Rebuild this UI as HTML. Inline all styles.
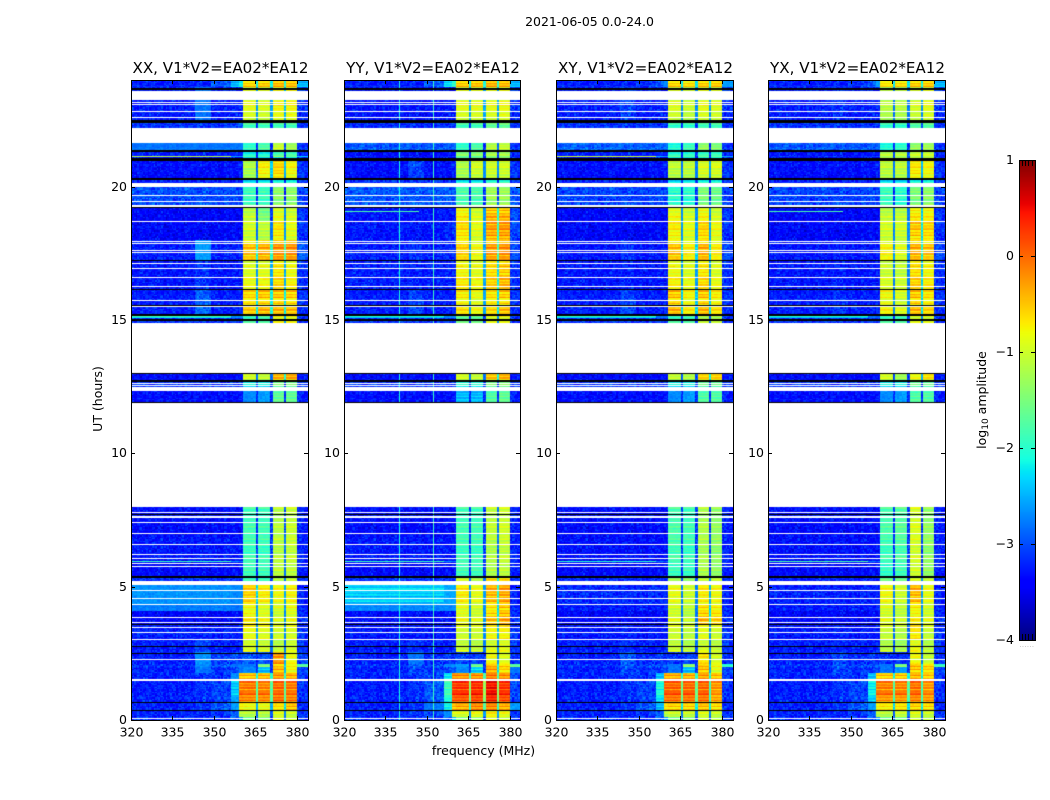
<!DOCTYPE html>
<html lang="en">
<head>
<meta charset="utf-8">
<title>2021-06-05 0.0-24.0</title>
<style>
html,body{margin:0;padding:0;background:#fff;}
#chart{position:relative;width:1050px;height:800px;overflow:hidden;background:#fff;font-family:"DejaVu Sans","Liberation Sans",sans-serif;}
#chart canvas{position:absolute;display:block;}
#overlay{position:absolute;left:0;top:0;}
#overlay text{font-family:"DejaVu Sans","Liberation Sans",sans-serif;fill:#000;}
</style>
</head>
<body>
<div id="chart">
<svg id="overlay" width="1050" height="800" viewBox="0 0 1050 800">
<text x="589.5" y="26" text-anchor="middle" font-size="12.5">2021-06-05 0.0-24.0</text>
<text x="483.5" y="755" text-anchor="middle" font-size="12.5">frequency (MHz)</text>
<text transform="translate(102,399) rotate(-90)" text-anchor="middle" font-size="12.5">UT (hours)</text>
<text transform="translate(986,400) rotate(-90)" text-anchor="middle" font-size="12.5">log<tspan font-size="9" dy="2">10</tspan><tspan dy="-2"> amplitude</tspan></text>
<text x="1027" y="647" text-anchor="middle" font-size="6" style="fill:#999" letter-spacing="0.6">......</text>
</svg>
</div>
<script>
// Axis data
const xTickLabels = [320, 335, 350, 365, 380];
const yTickLabels = [0, 5, 10, 15, 20];
const colorbarTickLabels = [1, 0, -1, -2, -3, -4];
const panelTitles = ["XX, V1*V2=EA02*EA12", "YY, V1*V2=EA02*EA12", "XY, V1*V2=EA02*EA12", "YX, V1*V2=EA02*EA12"];

// Frequency band edges (MHz)
const freqEdges = [320, 343, 349, 356, 359, 360.6, 365.3, 365.9, 370.4, 371.3, 375.4, 376, 380, 384];

// UT row edges (hours), top to bottom
const rowEdges = [24, 23.72, 22.5, 22.2, 21.39, 21.16, 21.12, 20.96, 20.33, 20, 19.25, 18.7, 18, 17.25, 16.18, 15.14, 15.07, 13, 12.72, 12.45, 11.9, 6.85, 5.98, 5.92, 5.39, 5.05, 4.36, 4.1, 3.6, 3, 2.55, 2.1, 2, 1.78, 1.45, 1.1, 0.85, 0.62, 0.36, 0.12, 0];

// Flagged (white) UT spans in hours
const flaggedSpans = [[23.6,23.26],[23.17,23.13],[23.09,23.06],[22.85,22.81],[22.62,22.57],[22.21,21.65],[20.15,20],[19.7,19.66],[19.45,19.41],[19.3,19.25],[18.72,18.68],[17.97,17.93],[17.87,17.84],[17.63,17.59],[17.56,17.52],[17.14,17.1],[16.95,16.92],[16.62,16.58],[16.28,16.24],[15.75,15.71],[15.53,15.49],[14.88,13.01],[12.64,12.6],[12.56,12.53],[12.5,12.47],[12.45,12.32],[11.88,7.97],[7.81,7.77],[7.65,7.57],[7.43,7.39],[7,6.97],[6.59,6.55],[6.21,6.18],[6.08,6.05],[5.89,5.85],[5.78,5.75],[5.21,5.05],[4.86,4.83],[4.56,4.53],[4.36,4.32],[3.87,3.83],[3.66,3.62],[3.47,3.44],[3.3,3.27],[3.03,2.99],[2.29,2.25],[1.52,1.45],[0.08,0.04]];

// Dead (black) UT spans in hours
const darkSpans = [[23.71,23.64],[22.49,22.4],[21.39,21.29],[21.07,20.97],[20.33,20.26],[19.25,19.19],[17.25,17.2],[16.18,16.13],[15.57,15.54],[15.23,15.15],[15.02,14.98],[13.01,12.97],[12.75,12.69],[11.92,11.88],[7.73,7.69],[5.39,5.33],[3.59,3.55],[2.76,2.72],[2.53,2.5],[0.66,0.62],[0.36,0.32]];

// Log10 amplitude per row: low, bump, mid, shoulder, b0, b1, b2, b3, b4, edge
const seriesXX = [
[-3.1,-3.1,-2.8,-2.4,-2.1,-.5,-.45,-.35,-.4,-2.4],
[-3.1,-2.7,-3.1,-3.1,-3.1,-.85,-.9,-.75,-.75,-3],
[-3,-3,-3,-2.9,-2.8,-1.9,-1.9,-1.9,-1.9,-3],
[-2.7,-2.7,-2.7,-2.7,-2.7,-1.9,-1.7,-1,-1.2,-3],
[-3.1,-3.1,-3.1,-3.1,-3.1,-2.2,-2.2,-1.9,-1.9,-3],
[-1,-1,-1,-2.5,-2.5,-1.6,-1.6,-1.2,-1.5,-2.2],
[-3.2,-3.2,-3.2,-3.2,-3.2,-2.3,-2.3,-2.2,-2.2,-3],
[-3.2,-3.2,-3.2,-3.2,-3.1,-1.2,-.75,-.6,-.8,-3],
[-3.1,-3.1,-3.1,-3.1,-3.1,-2.2,-2.1,-2,-2,-3],
[-2.85,-2.85,-2.85,-2.9,-2.9,-1.9,-1.9,-1.4,-1.4,-2.9],
[-3.25,-3.25,-3.25,-3.25,-3.25,-1.1,-1.5,-.9,-1,-3],
[-3.25,-3.25,-3.25,-3.25,-3.25,-1,-1.1,-.7,-.9,-3],
[-3.1,-2.5,-3.1,-3.1,-3,-.55,-.45,-.3,-.3,-2.8],
[-3.15,-3,-3.15,-3.15,-3.15,-.9,-.85,-.65,-.8,-3],
[-3.1,-2.75,-3.1,-3.1,-3.1,-.6,-.5,-.5,-.55,-3],
[-2,-2,-2,-2.6,-2.6,-1.9,-1.7,-.8,-.8,-3],
[-3,-3,-3,-3,-3,-1.9,-1.9,-.9,-.9,-3],
[-3.2,-3.2,-3.2,-3.2,-3.2,-1,-1.1,-.45,-.4,-3.1],
[-3,-3,-3,-3,-3,-2.2,-2.2,-1.6,-1.6,-3],
[-3.2,-3.2,-3.2,-3.2,-3.2,-2.6,-2.5,-1.6,-1.6,-3.1],
[-3.2,-3.2,-3.2,-3.2,-3.2,-1.85,-1.85,-1.15,-1.05,-3.1],
[-3.15,-3.15,-3.15,-3.15,-3.15,-1.85,-1.85,-1.1,-1.05,-3.1],
[-2,-2,-2,-2.6,-2.7,-1.85,-1.85,-1.1,-1.1,-3],
[-3.2,-3.2,-3.2,-3.2,-3.2,-1.85,-1.85,-1.1,-1.1,-3.1],
[-3,-3,-3,-3,-3,-1.8,-1.8,-1.1,-1,-3],
[-2.55,-2.55,-2.55,-2.6,-2.6,-.6,-.75,-.85,-.8,-3.1],
[-2.65,-2.65,-2.65,-2.7,-2.7,-.8,-.9,-.9,-.8,-3.1],
[-3.25,-3.25,-3.25,-3.25,-3.25,-.75,-.85,-1,-.9,-3],
[-3.1,-3.1,-3.1,-3.1,-3.1,-.85,-.9,-1,-.95,-3],
[-3.1,-2.9,-3.1,-3.1,-3.1,-.95,-1,-1.1,-1,-3],
[-3.1,-2.55,-2.9,-2.9,-2.9,-2.8,-2.8,-.3,-.85,-2.9],
[-3,-2.6,-2.8,-2.7,-2.7,-2.7,-1.4,-.5,-.7,-1.6],
[-3.1,-2.7,-3,-2.9,-2.7,-2.6,-2.4,-.4,-.8,-2.9],
[-3.1,-3,-3,-2.6,-.4,-.4,-.35,-.2,-.3,-3],
[-3.1,-3,-2.9,-2.4,-.2,-.15,-.2,-.05,-.15,-3],
[-3.1,-3,-2.9,-2.4,-.05,-.1,-.1,-.05,-.1,-3],
[-3.1,-3,-2.9,-2.5,-.15,-.2,-.2,-.05,-.15,-3],
[-3.1,-3,-2.8,-2.5,-.7,-.8,-.8,-.6,-.4,-3],
[-3.1,-3.1,-3,-2.8,-1.2,-1.2,-1.2,-1,-1.1,-3],
[-3,-3,-3,-2.9,-2.5,-1.6,-1.5,-1,-1.1,-3]
];
const seriesYY = [
[-3.1,-3.1,-2.8,-2.2,-1.9,-.45,-.4,-.3,-.35,-2.4],
[-3.15,-3.15,-3.15,-3.15,-3.15,-.85,-.85,-.85,-.8,-3],
[-3.05,-3.05,-3.05,-3,-3,-1.9,-1.9,-1.7,-1.7,-3],
[-2.8,-2.8,-2.8,-2.8,-2.8,-1.9,-1.7,-1.1,-1,-3],
[-3.2,-3.2,-3.2,-3.2,-3.2,-1.5,-1.5,-1.3,-1.3,-3],
[-3.1,-3.1,-3.1,-3.1,-3.1,-1.6,-1.6,-1.4,-1.4,-3],
[-3.2,-3.2,-3.2,-3.2,-3.2,-1.7,-1.6,-1.5,-1.4,-3],
[-3.2,-2.9,-3.2,-3.2,-3.1,-1.2,-1,-1,-1,-3],
[-3,-3,-3,-3,-3,-2.1,-2.1,-1.9,-1.9,-3],
[-2.8,-2.8,-2.8,-2.8,-2.8,-1.8,-1.8,-1.3,-1.3,-2.8],
[-3.15,-3.15,-3.15,-3.15,-3.1,-.75,-.95,-.45,-.45,-2.9],
[-3.15,-3.15,-3.15,-3.1,-3,-.65,-.9,-.35,-.3,-2.9],
[-3.1,-3,-3.1,-3.05,-3,-.6,-.85,-.35,-.3,-2.9],
[-3.1,-3.1,-3.1,-3.1,-3.1,-.75,-.85,-.6,-.5,-3],
[-3.1,-2.9,-3.1,-3.1,-3.1,-.7,-.85,-.65,-.55,-3],
[-2.2,-2.2,-2.2,-2.6,-2.6,-1.6,-1.6,-.9,-.8,-3],
[-3,-3,-3,-3,-3,-1.7,-1.7,-1,-.95,-3],
[-3.2,-3.2,-3.2,-3.2,-3.2,-1,-1.1,-.55,-.45,-3.1],
[-3,-3,-3,-3,-3,-2.1,-2.1,-1.6,-1.5,-3],
[-3.2,-3.2,-3.2,-3.2,-3.2,-2.4,-2.4,-1.7,-1.6,-3.1],
[-3.2,-3.2,-3.2,-3.2,-3.2,-1.85,-1.85,-1.1,-1,-3.1],
[-3.15,-3.15,-3.15,-3.15,-3.15,-1.85,-1.85,-1.15,-1.05,-3.1],
[-2,-2,-2,-2.6,-2.7,-1.85,-1.85,-1.2,-1.1,-3],
[-3.2,-3.2,-3.2,-3.2,-3.2,-1.85,-1.85,-1.2,-1.1,-3.1],
[-3,-3,-3,-3,-3,-.9,-1.1,-.5,-.5,-3],
[-2.4,-2.4,-2.4,-2.45,-2.45,-.75,-.9,-.5,-.4,-3.1],
[-2.6,-2.6,-2.6,-2.6,-2.6,-.85,-.95,-.65,-.5,-3.1],
[-3.2,-3.2,-3.2,-3.2,-3.2,-.85,-.95,-.55,-.4,-3],
[-3.15,-3.15,-3.15,-3.15,-3.15,-1,-1,-.8,-.75,-3],
[-3.1,-3,-3.1,-3.1,-3.1,-1.05,-1.1,-.95,-.9,-3],
[-3.1,-2.7,-3,-3,-3,-2.9,-2.9,-.85,-.95,-3],
[-3,-2.8,-2.9,-2.6,-2.6,-2.5,-1.5,-.35,-.5,-1.6],
[-3.1,-2.9,-3,-2.9,-2.8,-2.6,-2.3,-.3,-.6,-2.7],
[-3.1,-3,-2.9,-2.2,-.15,-.15,-.15,-.05,-.15,-2.9],
[-3.1,-3,-2.8,-1.9,.15,.2,.25,.4,.2,-2.9],
[-3.1,-3,-2.8,-1.9,.2,.25,.3,.45,.25,-2.9],
[-3.1,-3,-2.8,-2.1,.05,.05,.15,.3,.1,-2.9],
[-3.1,-3,-2.7,-2.1,-.4,-.3,-.1,-.1,-.3,-2.5],
[-3.1,-3,-2.9,-2.6,-1,-1,-.9,-.8,-.9,-3],
[-3,-3,-3,-2.9,-2.4,-1.5,-1.4,-1,-1.1,-3]
];
const seriesXY = [
[-3.1,-3.1,-3,-2.8,-2.6,-.5,-.55,-.45,-.45,-2.5],
[-3.1,-2.9,-3.1,-3.1,-3.1,-.9,-1,-.85,-.9,-3],
[-3,-3,-3,-3,-3,-2,-2,-1.9,-1.9,-3],
[-2.75,-2.75,-2.75,-2.75,-2.75,-2,-1.8,-1.3,-1.4,-3],
[-3.1,-3.1,-3.1,-3.1,-3.1,-2.1,-2.1,-2,-2,-3],
[-.9,-.9,-.9,-2.4,-2.6,-1.5,-1.6,-1.5,-1.6,-2.4],
[-3.2,-3.2,-3.2,-3.2,-3.2,-2.2,-2.2,-2.1,-2.1,-3],
[-3.2,-3.2,-3.2,-3.2,-3.1,-1.1,-1.1,-.95,-.95,-3],
[-3.1,-3.1,-3.1,-3.1,-3.1,-2.2,-2.1,-2,-2,-3],
[-2.9,-2.9,-2.9,-2.9,-2.9,-2,-2,-1.5,-1.6,-2.9],
[-3.25,-3.25,-3.25,-3.25,-3.25,-.85,-1,-.8,-1,-3],
[-3.25,-3.25,-3.25,-3.25,-3.25,-.75,-.9,-.6,-.85,-3],
[-3.15,-3,-3.15,-3.15,-3.1,-.55,-.75,-.45,-.75,-2.9],
[-3.15,-3.1,-3.15,-3.15,-3.15,-.8,-.9,-.65,-.9,-3],
[-3.1,-2.9,-3.1,-3.1,-3.1,-.5,-.75,-.5,-.7,-3],
[-2.1,-2.1,-2.1,-2.7,-2.7,-1.9,-1.8,-1.2,-1.2,-3],
[-3,-3,-3,-3,-3,-1.9,-1.9,-1.2,-1.2,-3],
[-3.2,-3.2,-3.2,-3.2,-3.2,-1.1,-1.2,-.6,-.6,-3.1],
[-3,-3,-3,-3,-3,-2.2,-2.2,-1.7,-1.7,-3],
[-3.2,-3.2,-3.2,-3.2,-3.2,-2.6,-2.5,-1.7,-1.7,-3.1],
[-3.2,-3.2,-3.2,-3.2,-3.2,-1.8,-1.85,-1.2,-1.35,-3.1],
[-3.2,-3.2,-3.2,-3.2,-3.2,-1.8,-1.85,-1.2,-1.35,-3.1],
[-2.1,-2.1,-2.1,-2.7,-2.8,-1.9,-1.9,-1.2,-1.35,-3],
[-3.2,-3.2,-3.2,-3.2,-3.2,-1.9,-1.9,-1.2,-1.35,-3.1],
[-3.05,-3.05,-3.05,-3.05,-3.05,-1.2,-1.3,-1,-1,-3],
[-3.05,-3.05,-3.05,-3.05,-3.05,-.9,-1.05,-.75,-.85,-3.1],
[-3.1,-3.1,-3.1,-3.1,-3.1,-.95,-1.05,-.6,-.7,-3.1],
[-3.25,-3.25,-3.25,-3.25,-3.25,-.95,-1.1,-.5,-.6,-3],
[-3.15,-3.1,-3.15,-3.15,-3.15,-1,-1.1,-.9,-1,-3],
[-3.1,-3,-3.1,-3.1,-3.1,-1.05,-1.15,-1,-1.1,-3],
[-3.1,-2.8,-3,-3,-3,-3,-2.9,-.7,-1,-3],
[-3,-2.8,-2.9,-2.8,-2.8,-2.7,-1.3,-.4,-.75,-1.9],
[-3.1,-2.9,-3,-3,-2.9,-2.7,-2.4,-.45,-.9,-2.9],
[-3.1,-3,-3,-2.4,-.3,-.3,-.3,-.25,-.4,-3],
[-3.1,-3,-2.9,-2.1,-.05,-.05,-.05,-.05,-.3,-3],
[-3.1,-3,-2.9,-2.1,.05,.05,.05,0,-.3,-3],
[-3.1,-3,-2.9,-2.3,-.1,-.1,-.1,-.1,-.35,-3],
[-3.1,-3,-2.8,-2.4,-.6,-.5,-.5,-.4,-.55,-3],
[-3.1,-3.1,-3,-2.8,-1.2,-1.1,-1.1,-1,-1.1,-3],
[-3,-3,-3,-2.9,-2.5,-1.6,-1.5,-1.1,-1.2,-3]
];
const seriesYX = [
[-3.1,-3.1,-3,-2.8,-2.5,-.6,-.55,-.45,-.45,-2.4],
[-3.1,-3,-3.1,-3.1,-3.1,-1.1,-1.1,-.95,-.85,-3],
[-3,-3,-3,-3,-3,-2,-2,-1.8,-1.8,-3],
[-2.8,-2.8,-2.8,-2.8,-2.8,-2,-1.9,-1.3,-1.2,-3],
[-3.15,-3.15,-3.15,-3.15,-3.15,-1.2,-1.2,-1.1,-1.1,-3],
[-3,-3,-3,-3,-3,-1.2,-1.2,-1.1,-1.1,-3],
[-3.2,-3.2,-3.2,-3.2,-3.2,-1.2,-1.2,-1.1,-1.1,-3],
[-3.2,-3.2,-3.2,-3.2,-3.1,-1.1,-1.1,-.7,-.8,-3],
[-3.1,-3.1,-3.1,-3.1,-3.1,-2.2,-2.2,-2,-2,-3],
[-2.9,-2.9,-2.9,-2.9,-2.9,-1.9,-2,-1.5,-1.4,-2.9],
[-3.25,-3.25,-3.25,-3.25,-3.25,-1.1,-1.1,-.7,-.75,-3],
[-3.25,-3.25,-3.25,-3.25,-3.25,-1,-1,-.55,-.6,-3],
[-3.15,-3.1,-3.15,-3.15,-3.1,-.8,-.95,-.45,-.55,-2.9],
[-3.15,-3.1,-3.15,-3.15,-3.15,-1,-1.05,-.6,-.75,-3],
[-3.1,-3,-3.1,-3.1,-3.1,-.8,-.95,-.5,-.65,-3],
[-2.2,-2.2,-2.2,-2.7,-2.8,-1.9,-1.8,-1,-.95,-3],
[-3,-3,-3,-3,-3,-1.9,-1.9,-1,-1,-3],
[-3.2,-3.2,-3.2,-3.2,-3.2,-1,-1.3,-.85,-.7,-3.1],
[-3,-3,-3,-3,-3,-2.2,-2.2,-1.7,-1.7,-3],
[-3.2,-3.2,-3.2,-3.2,-3.2,-2.6,-2.5,-1.7,-1.7,-3.1],
[-3.2,-3.2,-3.2,-3.2,-3.2,-1.8,-1.7,-.95,-1.35,-3.1],
[-3.2,-3.2,-3.2,-3.2,-3.2,-1.85,-1.75,-.95,-1.35,-3.1],
[-1.9,-1.9,-1.9,-2.7,-2.8,-1.95,-1.85,-1,-1.35,-3],
[-3.2,-3.2,-3.2,-3.2,-3.2,-1.95,-1.85,-1,-1.35,-3.1],
[-3.1,-3.1,-3.1,-3.1,-3.1,-1.5,-1.5,-.9,-1,-3],
[-3.1,-3.1,-3.1,-3.1,-3.1,-.85,-1.05,-.5,-.9,-3.1],
[-3.1,-3.1,-3.1,-3.1,-3.1,-.9,-1.05,-.7,-.95,-3.1],
[-3.25,-3.25,-3.25,-3.25,-3.25,-.95,-1.05,-.75,-.95,-3],
[-3.15,-3.1,-3.15,-3.15,-3.15,-1.05,-1.15,-.7,-1.05,-3],
[-3.1,-3.05,-3.1,-3.1,-3.1,-1.15,-1.25,-.85,-1.15,-3],
[-3.1,-2.9,-3,-3,-3,-3,-3,-.85,-1.1,-3],
[-3,-2.8,-2.9,-2.8,-2.8,-2.7,-1.4,-.35,-.5,-1.8],
[-3.1,-2.9,-3,-3,-2.9,-2.7,-2.5,-.5,-.6,-2.9],
[-3.1,-3,-3,-2.4,-.5,-.45,-.45,-.35,-.45,-3],
[-3.1,-3,-2.9,-2.2,-.2,-.2,-.2,-.1,-.3,-3],
[-3.1,-3,-2.9,-2.2,-.1,-.1,-.1,-.05,-.2,-3],
[-3.1,-3,-2.9,-2.4,-.3,-.3,-.3,-.2,-.3,-3],
[-3.1,-3,-2.8,-2.5,-.7,-.65,-.6,-.5,-.55,-3],
[-3.1,-3.1,-3,-2.8,-1.2,-1.2,-1.1,-1,-1.1,-3],
[-3,-3,-3,-2.9,-2.5,-1.6,-1.6,-1.1,-1.2,-3]
];
const panelSeries = [seriesXX, seriesYY, seriesXY, seriesYX];

// Narrow RFI channels per panel: [frequency MHz, log10 amplitude]
const rfiChannelsXX = [];
const rfiChannelsYY = [[340, -2.1], [352, -1.9]];
const rfiChannelsXY = [];
const rfiChannelsYX = [];
const panelRfi = [rfiChannelsXX, rfiChannelsYY, rfiChannelsXY, rfiChannelsYX];

// Short horizontal RFI streaks per panel: [hour top, hour bottom, log10 amplitude, MHz from, MHz to]
const streaksXX = [];
const streaksYY = [[19.1, 19.05, -1.8, 320, 347]];
const streaksXY = [];
const streaksYX = [[19.1, 19.05, -1.8, 320, 347]];
const panelStreaks = [streaksXX, streaksYY, streaksXY, streaksYX];

// Decorative receiver-noise grain (not measured data): scatter about each cell level
const grainTexture = [0.9,-0.4,0.2,-1,0.6,-0.1,0.4,-0.7,1,-0.3,0.1,-0.8,0.7,-0.5,0.3,-0.9,0.5,0,-0.6,0.8,-0.2,0.35,-1,0.65,-0.45,0.15,-0.75,0.95,-0.25,0.45,-0.55];

// Layout constants
const NS = "http://www.w3.org/2000/svg";
const panelLefts = [131, 344, 556, 768];
const panelWidths = [177, 176, 177, 177];
const canvasWidth = 177;
const plotTop = 80;
const plotBottom = 720;
const colorbarBox = {x: 1019, y: 160, w: 16, h: 480};

function xScale(mhz, left) { return left + (mhz - 320) * canvasWidth / 64; }
function yScale(hours) { return plotBottom - hours * (plotBottom - plotTop) / 24; }
function colorbarScale(v) { return colorbarBox.y + (1 - v) * colorbarBox.h / 5; }

function ramp(f, pts) {
  for (let i = 1; i < pts.length; i++) {
    if (f <= pts[i][0]) {
      const a = pts[i - 1], b = pts[i];
      return a[1] + (b[1] - a[1]) * (f - a[0]) / (b[0] - a[0]);
    }
  }
  return pts[pts.length - 1][1];
}
function jet(f) {
  f = Math.max(0, Math.min(1, f));
  return [
    Math.round(255 * ramp(f, [[0,0],[0.35,0],[0.66,1],[0.89,1],[1,0.5]])),
    Math.round(255 * ramp(f, [[0,0],[0.125,0],[0.375,1],[0.64,1],[0.91,0],[1,0]])),
    Math.round(255 * ramp(f, [[0,0.5],[0.11,1],[0.34,1],[0.65,0],[1,0]]))
  ];
}
function valueToFraction(v) { return (v + 4) / 5; }

function expandRow(r) {
  const drop = 1.6;
  const gap = (a, b) => Math.max(-3, Math.min(a, b) - drop);
  return [r[0], r[1], r[2], r[3], r[4], r[5], gap(r[5], r[6]), r[6], gap(r[6], r[7]), r[7], gap(r[7], r[8]), r[8], r[9]];
}

function grainAt(px, py) {
  const cx = Math.floor(px / 1.5), cy = Math.floor(py / 1.35);
  const h1 = (cx * cx * 3 + cy * cy * 7 + cx * cy * 5 + cx + cy * 3) % 31;
  const h2 = (cx * cx * 5 + cy * cy * 2 + cx * cy * 3 + cx * 2 + cy) % 29;
  return 0.7 * grainTexture[h1] + 0.5 * grainTexture[h2];
}
function noiseFor(base, px, py) {
  const streak = grainTexture[(py * 11) % grainTexture.length];
  if (base < -2.7) return -0.14 + 0.3 * grainAt(px, py);
  if (base < -2.4) return -0.1 + 0.12 * grainAt(px, py);
  const rowAmp = base > -0.6 ? 0.3 : 0.2;
  return 0.08 * grainAt(px, py) + rowAmp * streak;
}

function drawPanel(ctx, series, rfi, streaks) {
  const img = ctx.createImageData(canvasWidth, plotBottom - plotTop);
  const d = img.data;
  const xEdges = freqEdges.map(f => Math.round(xScale(f, 0)));
  const yEdges = rowEdges.map(t => Math.round(yScale(t)) - plotTop);
  series.forEach((row, i) => {
    const vals = expandRow(row);
    vals.forEach((base, j) => {
      for (let py = yEdges[i]; py < yEdges[i + 1]; py++) {
        for (let px = xEdges[j]; px < xEdges[j + 1]; px++) {
          let v = base + noiseFor(base, px, py);
          rfi.forEach(c => {
            if (Math.round(xScale(c[0], 0)) === px) v = Math.max(v, c[1]);
          });
          streaks.forEach(s => {
            const y0 = Math.round(yScale(s[0])) - plotTop;
            const y1 = Math.max(y0 + 1, Math.round(yScale(s[1])) - plotTop);
            if (py >= y0 && py < y1 && px >= xScale(s[3], 0) && px < xScale(s[4], 0)) v = Math.max(v, s[2]);
          });
          const c = jet(valueToFraction(v));
          const o = (py * canvasWidth + px) * 4;
          d[o] = c[0]; d[o + 1] = c[1]; d[o + 2] = c[2]; d[o + 3] = 255;
        }
      }
    });
  });
  ctx.putImageData(img, 0, 0);
  ctx.fillStyle = "#fff";
  flaggedSpans.forEach(s => {
    const y0 = Math.round(yScale(s[0])) - plotTop;
    const y1 = Math.round(yScale(s[1])) - plotTop;
    ctx.fillRect(0, y0, canvasWidth, Math.max(1, y1 - y0));
  });
  ctx.fillStyle = "#000";
  darkSpans.forEach(s => {
    const y0 = Math.round(yScale(s[0])) - plotTop;
    const y1 = Math.round(yScale(s[1])) - plotTop;
    ctx.fillRect(0, y0, canvasWidth, Math.max(1, y1 - y0));
  });
}

const chart = document.getElementById("chart");
const overlay = document.getElementById("overlay");

function addLine(x1, y1, x2, y2, name) {
  const l = document.createElementNS(NS, "line");
  l.setAttribute("x1", x1);
  l.setAttribute("y1", y1);
  l.setAttribute("x2", x2);
  l.setAttribute("y2", y2);
  l.setAttribute("stroke", "#000");
  l.setAttribute("stroke-width", "1");
  
  
  overlay.appendChild(l);
}
function addText(x, y, str, size, anchor, name) {
  const t = document.createElementNS(NS, "text");
  t.setAttribute("x", x);
  t.setAttribute("y", y);
  t.setAttribute("font-size", size);
  t.setAttribute("text-anchor", anchor);
  t.textContent = str;
  
  
  overlay.appendChild(t);
}

panelLefts.forEach((left, p) => {
  const w = panelWidths[p];
  const cv = document.createElement("canvas");
  cv.width = canvasWidth;
  cv.height = plotBottom - plotTop;
  cv.style.left = left + "px";
  cv.style.top = plotTop + "px";
  cv.style.clipPath = "inset(0 " + (canvasWidth - w) + "px 0 0)";
  
  
  chart.insertBefore(cv, overlay);
  drawPanel(cv.getContext("2d"), panelSeries[p], panelRfi[p], panelStreaks[p]);

  const frame = document.createElementNS(NS, "rect");
  frame.setAttribute("x", left + 0.5);
  frame.setAttribute("y", plotTop + 0.5);
  frame.setAttribute("width", w);
  frame.setAttribute("height", plotBottom - plotTop);
  frame.setAttribute("fill", "none");
  frame.setAttribute("stroke", "#000");
  
  
  overlay.appendChild(frame);

  addText(left + w / 2 + 1, 73, panelTitles[p], 15.1, "middle", "panel-title");

  xTickLabels.forEach(v => {
    const x = Math.round(xScale(v, left)) + 0.5;
    addLine(x, plotBottom, x, plotBottom - 4, "x-tick");
    addLine(x, plotTop, x, plotTop + 4, "x-tick");
    addText(x, 736.5, String(v), 12.5, "middle", "x-tick-label");
  });
  yTickLabels.forEach(v => {
    const y = Math.round(yScale(v)) + 0.5;
    addLine(left, y, left + 4, y, "y-tick");
    addLine(left + w, y, left + w - 4, y, "y-tick");
    addText(left - 4, y + 3.5, String(v), 12.5, "end", "y-tick-label");
  });
});

// Colorbar
const cbCanvas = document.createElement("canvas");
cbCanvas.width = colorbarBox.w;
cbCanvas.height = colorbarBox.h;
cbCanvas.style.left = colorbarBox.x + "px";
cbCanvas.style.top = colorbarBox.y + "px";


chart.insertBefore(cbCanvas, overlay);
const cbCtx = cbCanvas.getContext("2d");
for (let i = 0; i < colorbarBox.h; i++) {
  const c = jet(1 - (i + 0.5) / colorbarBox.h);
  cbCtx.fillStyle = "rgb(" + c.join(",") + ")";
  cbCtx.fillRect(0, i, colorbarBox.w, 1);
}
const cbFrame = document.createElementNS(NS, "rect");
cbFrame.setAttribute("x", colorbarBox.x + 0.5);
cbFrame.setAttribute("y", colorbarBox.y + 0.5);
cbFrame.setAttribute("width", colorbarBox.w);
cbFrame.setAttribute("height", colorbarBox.h);
cbFrame.setAttribute("fill", "none");
cbFrame.setAttribute("stroke", "#000");


overlay.appendChild(cbFrame);
colorbarTickLabels.forEach(v => {
  const y = Math.round(colorbarScale(v)) + 0.5;
  addLine(colorbarBox.x, y, colorbarBox.x + 4, y, "colorbar-tick");
  addLine(colorbarBox.x + colorbarBox.w, y, colorbarBox.x + colorbarBox.w - 4, y, "colorbar-tick");
  addText(colorbarBox.x - 5, y + 3.5, String(v).replace("-", "\u2212"), 12.5, "end", "colorbar-tick-label");
});
[3, 6, 9, 13].forEach(dx => {
  addLine(colorbarBox.x + dx + 0.5, colorbarBox.y, colorbarBox.x + dx + 0.5, colorbarBox.y + 6, "colorbar-edge-tick");
  addLine(colorbarBox.x + dx + 0.5, colorbarBox.y + colorbarBox.h, colorbarBox.x + dx + 0.5, colorbarBox.y + colorbarBox.h - 6, "colorbar-edge-tick");
});
</script>
</body>
</html>
